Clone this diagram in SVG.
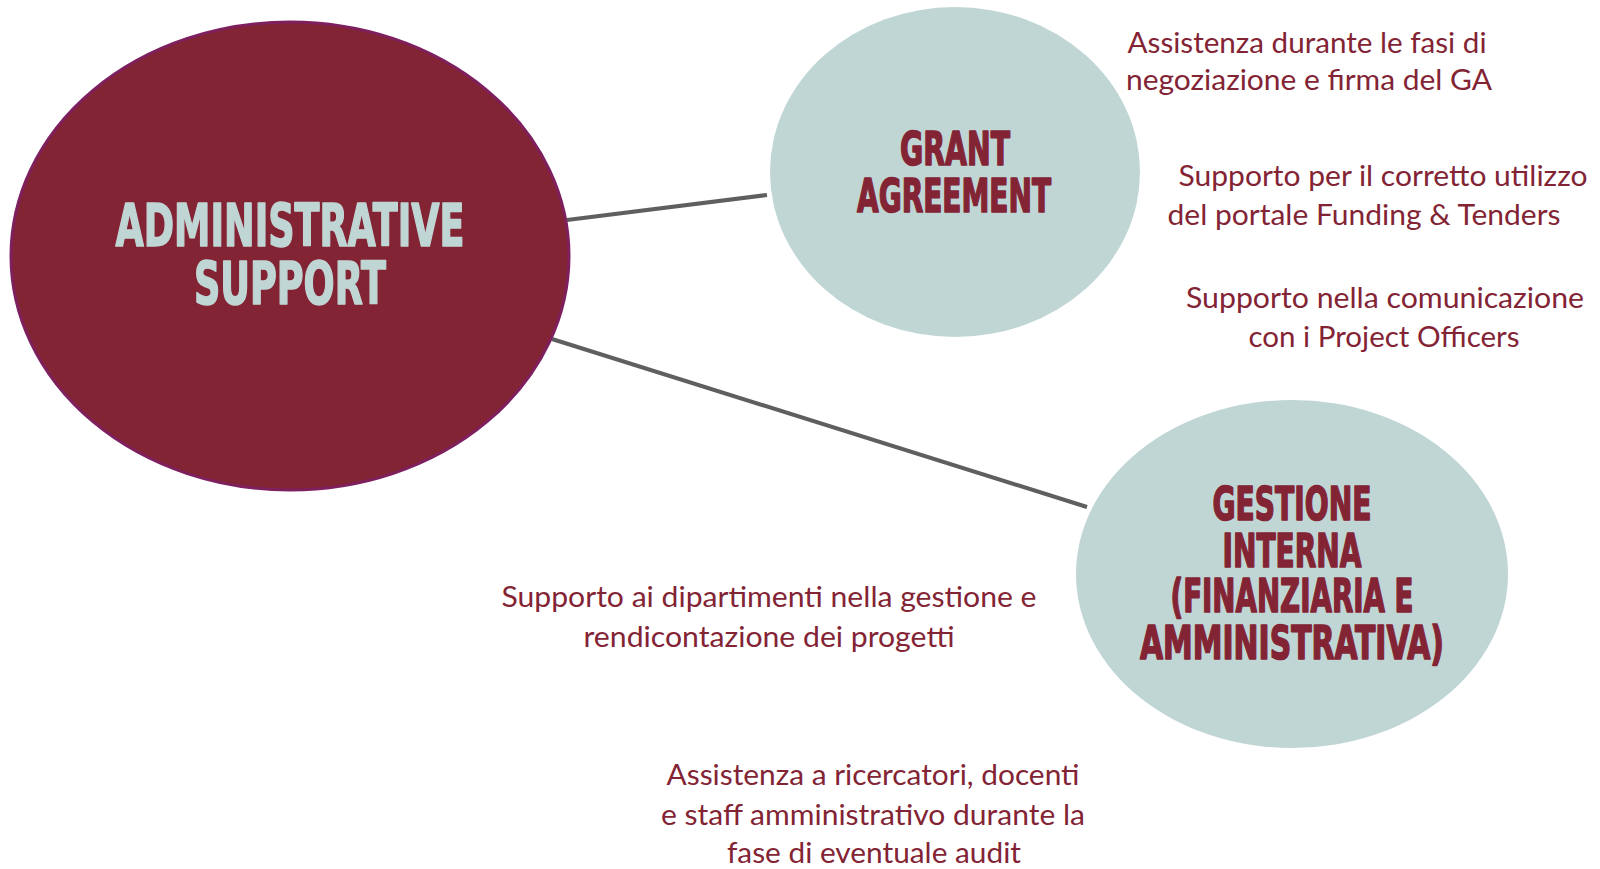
<svg xmlns="http://www.w3.org/2000/svg" width="1600" height="869" viewBox="0 0 1600 869">
<style>
.hd{font-family:"DejaVu Sans Condensed","DejaVu Sans",sans-serif;font-weight:bold;text-anchor:middle;stroke-width:1.6;stroke-linejoin:round}
.big{fill:#C0D6D5;stroke:#C0D6D5;font-size:58px}
.sm{fill:#832435;stroke:#832435;font-size:47px}
.body{font-family:Lato,"Open Sans",sans-serif;font-size:28px;fill:#832435;text-anchor:middle}
.conn{stroke:#5F5F5F;stroke-width:4;fill:none}
</style>
<rect width="1600" height="869" fill="#FFFFFF"/>
<g id="connectors">
<line class="conn" x1="567" y1="220" x2="767" y2="195"/>
<line class="conn" x1="552" y1="339" x2="1087" y2="507"/>
</g>
<g id="node-admin">
<ellipse cx="290" cy="256" rx="279" ry="234" fill="#832435" stroke="#7E1F5E" stroke-width="3"/>
<text class="hd big" x="290" y="246" textLength="349" lengthAdjust="spacingAndGlyphs">ADMINISTRATIVE</text>
<text class="hd big" x="290" y="304" textLength="192" lengthAdjust="spacingAndGlyphs">SUPPORT</text>
</g>
<g id="node-grant">
<ellipse cx="955" cy="172" rx="185" ry="165" fill="#C0D6D5"/>
<text class="hd sm" x="955" y="165" textLength="110" lengthAdjust="spacingAndGlyphs">GRANT</text>
<text class="hd sm" x="954" y="212" textLength="194" lengthAdjust="spacingAndGlyphs">AGREEMENT</text>
</g>
<g id="node-gestione">
<ellipse cx="1292" cy="574" rx="216" ry="174" fill="#C0D6D5"/>
<text class="hd sm" x="1292" y="520" textLength="159" lengthAdjust="spacingAndGlyphs">GESTIONE</text>
<text class="hd sm" x="1292" y="567" textLength="139" lengthAdjust="spacingAndGlyphs">INTERNA</text>
<text class="hd sm" x="1292" y="612" textLength="243" lengthAdjust="spacingAndGlyphs">(FINANZIARIA E</text>
<text class="hd sm" x="1292" y="659" textLength="304" lengthAdjust="spacingAndGlyphs">AMMINISTRATIVA)</text>
</g>
<g id="labels">
<text class="body" x="1307" y="53" textLength="359" lengthAdjust="spacingAndGlyphs">Assistenza durante le fasi di</text>
<text class="body" x="1309" y="90" textLength="366" lengthAdjust="spacingAndGlyphs">negoziazione e firma del GA</text>
<text class="body" x="1383" y="186" textLength="409" lengthAdjust="spacingAndGlyphs">Supporto per il corretto utilizzo</text>
<text class="body" x="1364" y="225" textLength="393" lengthAdjust="spacingAndGlyphs">del portale Funding &amp; Tenders</text>
<text class="body" x="1385" y="308" textLength="398" lengthAdjust="spacingAndGlyphs">Supporto nella comunicazione</text>
<text class="body" x="1384" y="347" textLength="271" lengthAdjust="spacingAndGlyphs">con i Project Officers</text>
<text class="body" x="769" y="607" textLength="535" lengthAdjust="spacingAndGlyphs">Supporto ai dipartimenti nella gestione e</text>
<text class="body" x="769" y="647" textLength="371" lengthAdjust="spacingAndGlyphs">rendicontazione dei progetti</text>
<text class="body" x="873" y="785" textLength="413" lengthAdjust="spacingAndGlyphs">Assistenza a ricercatori, docenti</text>
<text class="body" x="873" y="825" textLength="424" lengthAdjust="spacingAndGlyphs">e staff amministrativo durante la</text>
<text class="body" x="874" y="863" textLength="294" lengthAdjust="spacingAndGlyphs">fase di eventuale audit</text>
</g>
</svg>
